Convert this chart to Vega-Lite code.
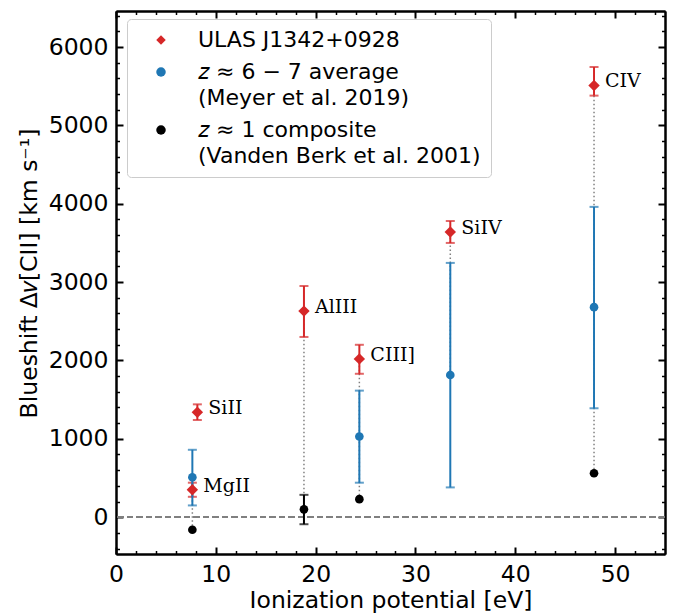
{
  "$schema": "https://vega.github.io/schema/vega-lite/v6.json",
  "width": 549,
  "height": 543,
  "autosize": {"type": "none"},
  "padding": {"left": 116, "top": 11, "right": 10, "bottom": 61},
  "background": "white",
  "config": {
    "view": {"stroke": null},
    "style": {"guide-label": {"lineHeight": 25.5}},
    "axis": {
      "grid": false,
      "domainColor": "black",
      "domainWidth": 2,
      "tickColor": "black",
      "labelFont": "DejaVu Sans",
      "titleFont": "DejaVu Sans",
      "labelFontSize": 23.5,
      "titleFontSize": 23.5,
      "labelColor": "black",
      "titleColor": "black",
      "titleFontWeight": "normal",
      "labelOverlap": false,
      "labelFlush": false,
      "labelBound": false,
      "format": "d"
    }
  },
  "datasets": {
    "pts": [
      {"series": "ULAS", "ion": "SiII", "ip": 8.15, "v": 1340, "lo": 1240, "hi": 1440},
      {"series": "ULAS", "ion": "MgII", "ip": 7.65, "v": 350, "lo": 260, "hi": 440},
      {"series": "ULAS", "ion": "AlIII", "ip": 18.83, "v": 2630, "lo": 2300, "hi": 2950},
      {"series": "ULAS", "ion": "CIII]", "ip": 24.38, "v": 2020, "lo": 1830, "hi": 2200},
      {"series": "ULAS", "ion": "SiIV", "ip": 33.49, "v": 3640, "lo": 3500, "hi": 3780},
      {"series": "ULAS", "ion": "CIV", "ip": 47.89, "v": 5510, "lo": 5380, "hi": 5745},
      {"series": "Meyer", "ion": "MgII", "ip": 7.65, "v": 510, "lo": 150, "hi": 860},
      {"series": "Meyer", "ion": "CIII]", "ip": 24.38, "v": 1030, "lo": 440, "hi": 1615},
      {"series": "Meyer", "ion": "SiIV", "ip": 33.49, "v": 1815, "lo": 380, "hi": 3245},
      {"series": "Meyer", "ion": "CIV", "ip": 47.89, "v": 2680, "lo": 1390, "hi": 3960},
      {"series": "VB", "ion": "MgII", "ip": 7.65, "v": -160, "lo": null, "hi": null},
      {"series": "VB", "ion": "AlIII", "ip": 18.83, "v": 100, "lo": -90, "hi": 285},
      {"series": "VB", "ion": "CIII]", "ip": 24.38, "v": 230, "lo": null, "hi": null},
      {"series": "VB", "ion": "CIV", "ip": 47.89, "v": 560, "lo": null, "hi": null}
    ]
  },
  "data": {"name": "pts"},
  "resolve": {"axis": {"x": "independent", "y": "independent"}},
  "layer": [
    {
      "mark": {"type": "rule", "color": "#808080", "strokeDash": [6, 3.5], "strokeWidth": 1.3},
      "encoding": {
        "y": {"datum": 0, "type": "quantitative", "scale": {"domain": [-470, 6460], "nice": false, "zero": false}, "axis": null}
      }
    },
    {
      "transform": [
        {"aggregate": [{"op": "min", "field": "v", "as": "vmin"}, {"op": "max", "field": "v", "as": "vmax"}], "groupby": ["ion", "ip"]}
      ],
      "mark": {"type": "rule", "color": "#808080", "strokeDash": [1.5, 2.5], "strokeWidth": 1.5},
      "encoding": {
        "x": {
          "field": "ip", "type": "quantitative",
          "scale": {"domain": [0, 55], "nice": false, "zero": false},
          "axis": {"orient": "bottom", "values": [0, 10, 20, 30, 40, 50], "tickSize": -7, "tickWidth": 2, "labelPadding": 15, "title": "Ionization potential [eV]", "titlePadding": 3}
        },
        "y": {
          "field": "vmin", "type": "quantitative",
          "scale": {"domain": [-470, 6460], "nice": false, "zero": false},
          "axis": {"orient": "left", "values": [0, 1000, 2000, 3000, 4000, 5000, 6000], "tickSize": -7, "tickWidth": 2, "labelPadding": 15, "title": "Blueshift Δ𝑣[CII] [km s⁻¹]", "titlePadding": 7, "titleY": 262}
        },
        "y2": {"field": "vmax"}
      }
    },
    {
      "transform": [{"filter": "datum.series === 'ULAS'"}],
      "mark": {"type": "errorbar", "color": "#d62728", "thickness": 2, "ticks": {"size": 9, "thickness": 2}},
      "encoding": {
        "x": {
          "field": "ip", "type": "quantitative",
          "scale": {"domain": [0, 55], "nice": false, "zero": false},
          "axis": {"orient": "bottom", "values": [2, 4, 6, 8, 12, 14, 16, 18, 22, 24, 26, 28, 32, 34, 36, 38, 42, 44, 46, 48, 52, 54], "tickSize": -3.5, "tickWidth": 1.5, "labels": false, "title": null}
        },
        "y": {
          "field": "lo", "type": "quantitative",
          "scale": {"domain": [-470, 6460], "nice": false, "zero": false},
          "axis": {"orient": "left", "values": [-400, -200, 200, 400, 600, 800, 1200, 1400, 1600, 1800, 2200, 2400, 2600, 2800, 3200, 3400, 3600, 3800, 4200, 4400, 4600, 4800, 5200, 5400, 5600, 5800, 6200, 6400], "tickSize": -3.5, "tickWidth": 1.5, "labels": false, "title": null}
        },
        "y2": {"field": "hi"}
      }
    },
    {
      "transform": [{"filter": "datum.series === 'Meyer'"}],
      "mark": {"type": "errorbar", "color": "#1f77b4", "thickness": 2, "ticks": {"size": 9, "thickness": 2}},
      "encoding": {
        "x": {
          "field": "ip", "type": "quantitative",
          "scale": {"domain": [0, 55], "nice": false, "zero": false},
          "axis": {"orient": "top", "values": [0, 10, 20, 30, 40, 50], "tickSize": -7, "tickWidth": 2, "labels": false, "title": null}
        },
        "y": {
          "field": "lo", "type": "quantitative",
          "scale": {"domain": [-470, 6460], "nice": false, "zero": false},
          "axis": {"orient": "right", "values": [0, 1000, 2000, 3000, 4000, 5000, 6000], "tickSize": -7, "tickWidth": 2, "labels": false, "title": null}
        },
        "y2": {"field": "hi"}
      }
    },
    {
      "transform": [{"filter": "datum.series === 'VB' && datum.lo != null"}],
      "mark": {"type": "errorbar", "color": "black", "thickness": 2, "ticks": {"size": 9, "thickness": 2}},
      "encoding": {
        "x": {
          "field": "ip", "type": "quantitative",
          "scale": {"domain": [0, 55], "nice": false, "zero": false},
          "axis": {"orient": "top", "values": [2, 4, 6, 8, 12, 14, 16, 18, 22, 24, 26, 28, 32, 34, 36, 38, 42, 44, 46, 48, 52, 54], "tickSize": -3.5, "tickWidth": 1.5, "labels": false, "title": null}
        },
        "y": {
          "field": "lo", "type": "quantitative",
          "scale": {"domain": [-470, 6460], "nice": false, "zero": false},
          "axis": {"orient": "right", "values": [-400, -200, 200, 400, 600, 800, 1200, 1400, 1600, 1800, 2200, 2400, 2600, 2800, 3200, 3400, 3600, 3800, 4200, 4400, 4600, 4800, 5200, 5400, 5600, 5800, 6200, 6400], "tickSize": -3.5, "tickWidth": 1.5, "labels": false, "title": null}
        },
        "y2": {"field": "hi"}
      }
    },
    {
      "mark": {"type": "point", "filled": true, "opacity": 1, "strokeWidth": 0},
      "encoding": {
        "x": {"field": "ip", "type": "quantitative", "scale": {"domain": [0, 55], "nice": false, "zero": false}, "axis": null},
        "y": {"field": "v", "type": "quantitative", "scale": {"domain": [-470, 6460], "nice": false, "zero": false}, "axis": null},
        "color": {
          "field": "series", "type": "nominal",
          "scale": {"domain": ["ULAS", "Meyer", "VB"], "range": ["#d62728", "#1f77b4", "black"]},
          "legend": {
            "title": null,
            "orient": "none",
            "legendX": 11,
            "legendY": 8,
            "fillColor": "white",
            "strokeColor": "#cccccc",
            "cornerRadius": 4,
            "padding": 10,
            "rowPadding": 10,
            "symbolSize": 90,
            "symbolStrokeWidth": 0,
            "symbolOffset": 13,
            "labelOffset": 26,
            "labelFont": "DejaVu Sans",
            "labelFontSize": 22,
            "labelColor": "black",
            "labelLimit": 400,
            "labelExpr": "datum.value === 'ULAS' ? 'ULAS J1342+0928' : datum.value === 'Meyer' ? ['𝑧 ≈ 6 − 7 average', '(Meyer et al. 2019)'] : ['𝑧 ≈ 1 composite', '(Vanden Berk et al. 2001)']"
          }
        },
        "shape": {
          "field": "series", "type": "nominal",
          "scale": {"domain": ["ULAS", "Meyer", "VB"], "range": ["diamond", "circle", "circle"]}
        },
        "size": {"condition": {"test": "datum.series === 'ULAS'", "value": 130}, "value": 75}
      }
    },
    {
      "transform": [{"filter": "datum.series === 'ULAS'"}],
      "mark": {"type": "text", "align": "left", "baseline": "middle", "dx": 11, "dy": -4, "font": "DejaVu Serif", "fontSize": 19, "color": "black"},
      "encoding": {
        "x": {"field": "ip", "type": "quantitative", "scale": {"domain": [0, 55], "nice": false, "zero": false}, "axis": null},
        "y": {"field": "v", "type": "quantitative", "scale": {"domain": [-470, 6460], "nice": false, "zero": false}, "axis": null},
        "text": {"field": "ion"}
      }
    }
  ]
}
